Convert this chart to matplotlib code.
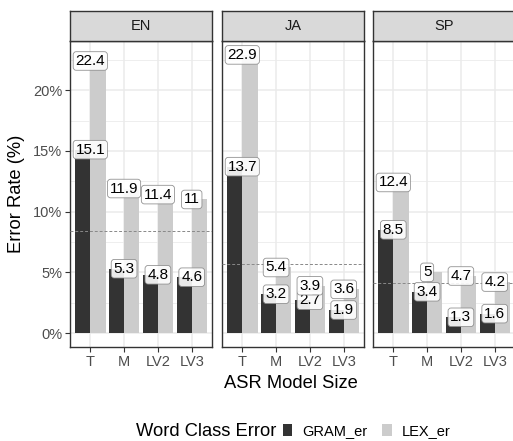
import matplotlib
matplotlib.use('Agg')
import matplotlib.pyplot as plt
from matplotlib.patches import Patch

plt.rcParams['font.family'] = ['Liberation Sans', 'DejaVu Sans']

# data
languages = ['EN', 'JA', 'SP']
models = ['T', 'M', 'LV2', 'LV3']
gram_en = [15.1, 5.3, 4.8, 4.6]
gram_ja = [13.7, 3.2, 2.7, 1.9]
gram_sp = [8.5, 3.4, 1.3, 1.6]
lex_en = [22.4, 11.9, 11.4, 11]
lex_ja = [22.9, 5.4, 3.9, 3.6]
lex_sp = [12.4, 5, 4.7, 4.2]
ref_lines = [8.4, 5.7, 4.1]   # dashed reference per language

gram_all = [gram_en, gram_ja, gram_sp]
lex_all = [lex_en, lex_ja, lex_sp]

dark = '#333333'
light = '#CCCCCC'
W, H = 513, 441

fig = plt.figure(figsize=(W / 100, H / 100), dpi=100)

def fx(px):
    return px / W

def fy(py):
    return 1 - py / H

ymax = max(max(v) for v in gram_all + lex_all)
pad = 0.05 * ymax
x = list(range(1, len(models) + 1))
bw = 0.45

panel_left = [70, 222, 373]
panel_w = 142
top, bottom, strip_top = 41, 347, 11

for i, lang in enumerate(languages):
    ax = fig.add_axes([fx(panel_left[i]), fy(bottom), fx(panel_w), (bottom - top) / H])
    ax.set_facecolor('white')
    ax.bar([k - bw / 2 for k in x], gram_all[i], width=bw, color=dark, zorder=2)
    ax.bar([k + bw / 2 for k in x], lex_all[i], width=bw, color=light, zorder=2)
    ax.axhline(ref_lines[i], color='#888888', lw=0.7, ls=(0, (3, 2)), zorder=3)
    for k, g, l in zip(x, gram_all[i], lex_all[i]):
        for v in (g, l):
            ax.text(k, v, f'{v:g}', ha='center', va='center', fontsize=11, color='black', zorder=5,
                    bbox=dict(boxstyle='round,pad=0.15,rounding_size=0.2', fc='white', ec='#888888',
                              lw=0.6, alpha=0.9))
    ax.set_xlim(0.4, len(models) + 0.6)
    ax.set_ylim(-pad, ymax + pad)
    ax.set_xticks(x)
    ax.set_xticklabels(models)
    ax.set_yticks([0, 5, 10, 15, 20])
    ax.set_yticks([2.5, 7.5, 12.5, 17.5, 22.5], minor=True)
    ax.set_yticklabels(['0%', '5%', '10%', '15%', '20%'])
    ax.grid(which='major', color='#EBEBEB', lw=1.1, zorder=0)
    ax.grid(which='minor', axis='y', color='#EBEBEB', lw=0.6, zorder=0)
    ax.set_axisbelow(True)
    ax.tick_params(axis='both', which='major', length=3.5, width=0.8, color='#333333',
                   labelsize=10.5, labelcolor='#4D4D4D', pad=2)
    ax.tick_params(axis='y', which='minor', length=0)
    if i > 0:
        ax.tick_params(axis='y', which='major', left=False, labelleft=False)
    for s in ax.spines.values():
        s.set_color('#333333')
        s.set_linewidth(1.0)

    sax = fig.add_axes([fx(panel_left[i]), fy(top), fx(panel_w), (top - strip_top) / H])
    sax.set_facecolor('#D9D9D9')
    sax.set_xticks([])
    sax.set_yticks([])
    for s in sax.spines.values():
        s.set_color('#333333')
        s.set_linewidth(1.0)
    sax.text(0.5, 0.5, lang, ha='center', va='center', fontsize=10.5, color='#1A1A1A',
             transform=sax.transAxes)

fig.text(fx(17), fy(194), 'Error Rate (%)', rotation=90, ha='center', va='center', fontsize=13.2)
fig.text(fx(291), fy(383), 'ASR Model Size', ha='center', va='center', fontsize=13.2)

fig.text(fx(136), fy(431), 'Word Class Error', ha='left', va='center', fontsize=13.2)
handles = [Patch(facecolor=dark, edgecolor='none'), Patch(facecolor=light, edgecolor='none')]
fig.legend(handles, ['GRAM_er', 'LEX_er'], loc='center left', bbox_to_anchor=(fx(283), fy(431)),
           ncol=2, frameon=False, fontsize=10.5, handlelength=0.65, handleheight=0.85,
           handletextpad=0.7, columnspacing=1.0, borderpad=0, borderaxespad=0)

fig.savefig('out.png', dpi=100, facecolor='white')
